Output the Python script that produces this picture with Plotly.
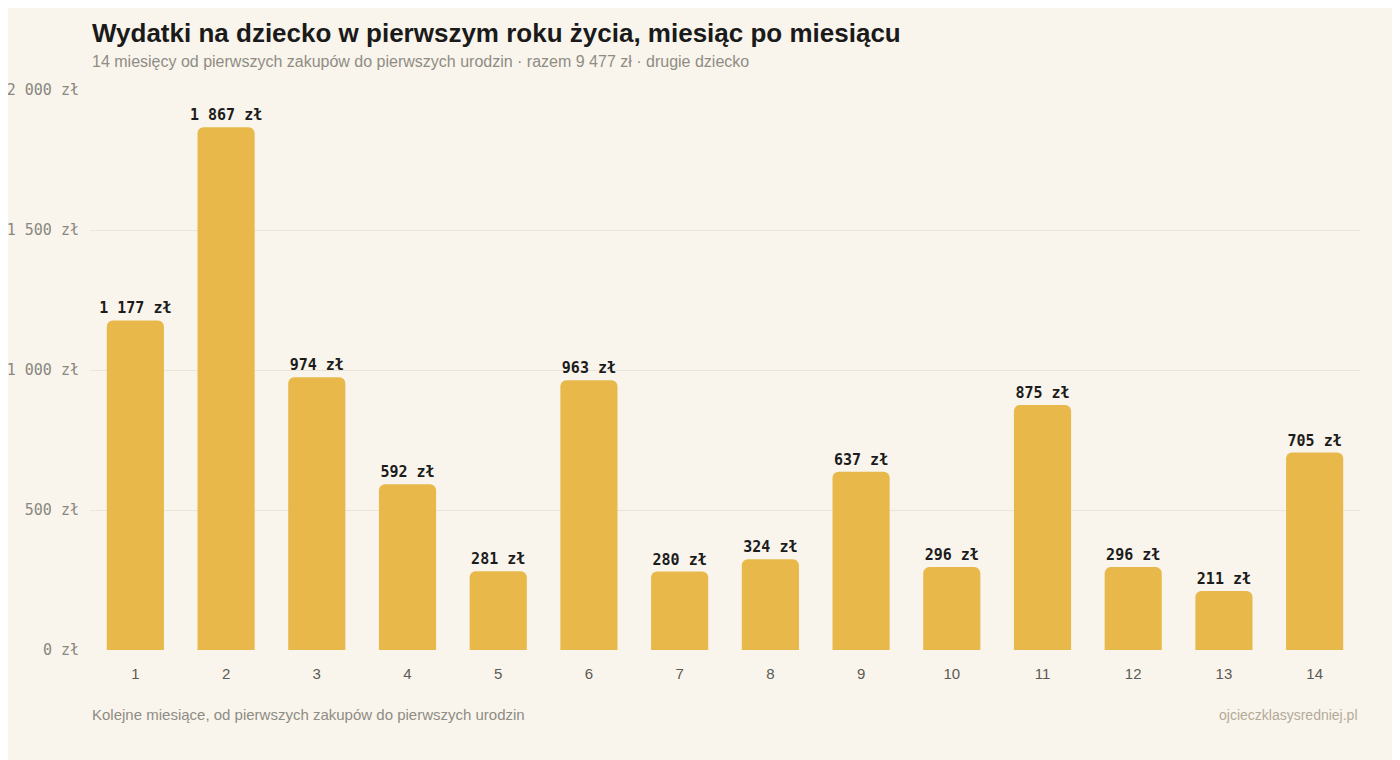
import plotly.graph_objects as go

# miesiące 1..14 i wydatki w zł
months = list(range(1, 15))
spend = [1177, 1867, 974, 592, 281, 963, 280, 324, 637, 296, 875, 296, 211, 705]
y_ticks = [0, 500, 1000, 1500, 2000]
y_tick_labels = ["0 zł", "500 zł", "1 000 zł", "1 500 zł", "2 000 zł"]

title = "Wydatki na dziecko w pierwszym roku życia, miesiąc po miesiącu"
subtitle = "14 miesięcy od pierwszych zakupów do pierwszych urodzin · razem 9 477 zł · drugie dziecko"
x_note = "Kolejne miesiące, od pierwszych zakupów do pierwszych urodzin"
source = "ojcieczklasysredniej.pl"

bg = "#f9f5ec"
bar_color = "#e8b94a"
grid_color = "#ebe5d7"
sans = "Liberation Sans, Arial, sans-serif"
mono = "DejaVu Sans Mono, monospace"

fig = go.Figure()
fig.add_trace(go.Bar(
    x=months,
    y=spend,
    marker=dict(color=bar_color, line=dict(width=0), cornerradius=6),
    texttemplate="%{y:,.0f} zł",
    textposition="outside",
    constraintext="none",
    textfont=dict(family=mono, size=15, color="#1c1c1c", weight="bold"),
    cliponaxis=False,
    hoverinfo="skip",
))

# page has an 8px body margin, so margins are shifted to compensate
fig.update_layout(
    width=1400,
    height=760,
    paper_bgcolor=bg,
    plot_bgcolor=bg,
    separators=", ",
    margin=dict(l=82, r=48, t=82, b=118),
    bargap=0.37,
    showlegend=False,
    xaxis=dict(
        tickmode="array",
        tickvals=months,
        range=[0.5, 14.5],
        showgrid=False,
        zeroline=False,
        showline=False,
        ticks="",
        tickfont=dict(family=sans, size=15, color="#5c5a55"),
        ticklabelstandoff=13,
    ),
    yaxis=dict(
        range=[0, 2000],
        tickmode="array",
        tickvals=y_ticks,
        ticktext=y_tick_labels,
        showgrid=True,
        gridcolor=grid_color,
        gridwidth=1,
        zeroline=False,
        showline=False,
        ticks="",
        automargin=False,
        tickfont=dict(family=mono, size=15, color="#8a877f"),
        ticklabelstandoff=10,
    ),
    annotations=[
        dict(text=title, xref="paper", yref="paper", x=0, y=1.102,
             xanchor="left", yanchor="middle", showarrow=False,
             font=dict(family=sans, size=26, color="#1a1a1a", weight="bold")),
        dict(text=subtitle, xref="paper", yref="paper", x=0, y=1.05,
             xanchor="left", yanchor="middle", showarrow=False,
             font=dict(family=sans, size=16, color="#8f8c84")),
        dict(text=x_note, xref="paper", yref="paper", x=0, y=-0.116,
             xanchor="left", yanchor="middle", showarrow=False,
             font=dict(family=sans, size=15, color="#8f8c84")),
        dict(text=source, xref="paper", yref="paper", x=1, y=-0.116,
             xanchor="right", yanchor="middle", showarrow=False,
             font=dict(family=sans, size=14, color="#b3aa98")),
    ],
)

fig.write_html("out.html")
